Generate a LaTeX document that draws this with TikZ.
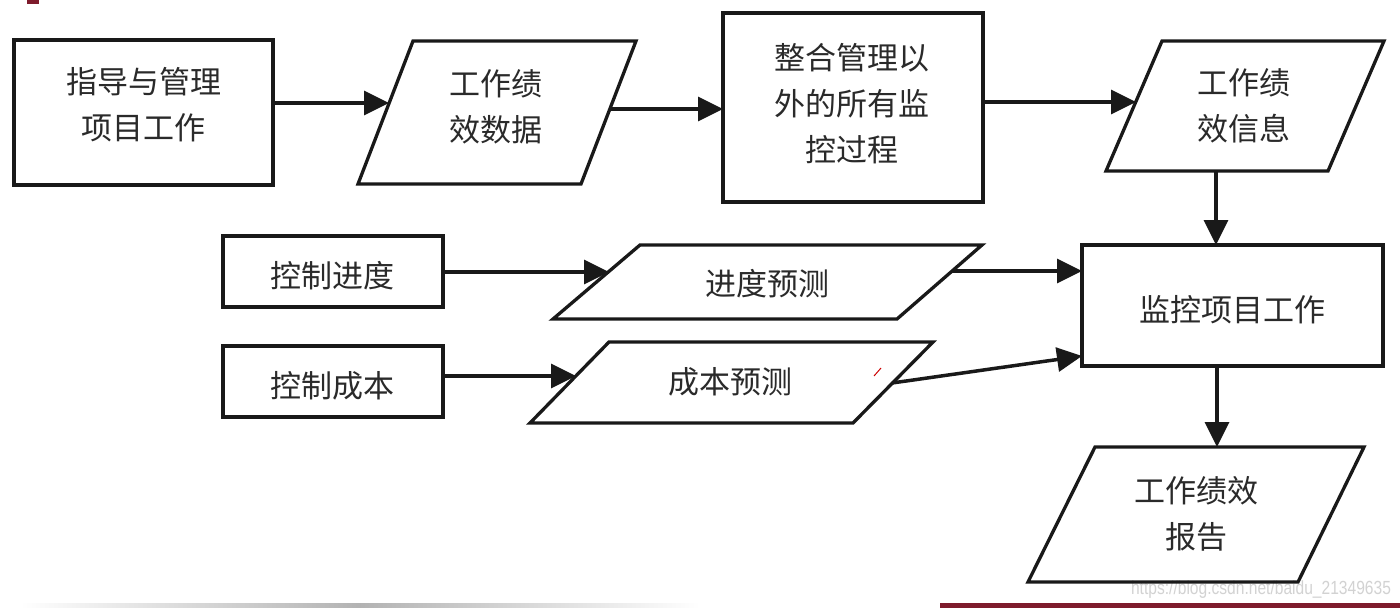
\documentclass[tikz,border=0pt]{standalone}
\usepackage{fontspec}
\newfontfamily\cjk{Noto Sans CJK SC}
\newfontfamily\wmfont{Liberation Sans}
\usetikzlibrary{arrows.meta}
\definecolor{txtgray}{HTML}{2A2A2A}
\definecolor{deepred}{HTML}{7E1B2C}
\definecolor{wmgray}{HTML}{D2D2D2}
\tikzset{
  box/.style={draw=black!90, line width=3.3pt, inner sep=0pt, outer sep=0pt},
  parashape/.style={draw=black!90, line width=3.3pt, line join=miter},
  txt/.style={font=\cjk\fontsize{31}{46}\selectfont, text=txtgray, align=center, inner sep=0pt},
  arr/.style={line width=3.5pt, draw=black!90, -{Triangle[length=25pt,width=24pt]}},
}
\begin{document}
\begin{tikzpicture}[x=1pt,y=-1pt]
\useasboundingbox[fill=white] (0,0) rectangle (1400,608);
% decorations
\fill[deepred] (27,0) rectangle (39,4);
\shade[left color=white, right color=white, middle color=black!30] (20,603.5) rectangle (700,607);
\fill[deepred] (940,603) rectangle (1400,608);
\node[font=\wmfont\fontsize{19}{19}\selectfont, text=wmgray, inner sep=0pt, xscale=0.82] (wm) at (1261,590) {https://blog.csdn.net/baidu\_21349635};

% rectangles
\node[box, minimum width=259pt, minimum height=145pt] (b1) at (143.5,112.5) {};
\node[txt] (t1) at (143.5,104.5) {指导与管理\\项目工作};
\node[box, minimum width=260pt, minimum height=189pt] (b3) at (853,107.5) {};
\node[txt] (t3) at (852,104) {整合管理以\\外的所有监\\控过程};
\node[box, minimum width=220pt, minimum height=71pt] (bs) at (333,271.5) {};
\node[txt] (ts) at (332,276) {控制进度};
\node[box, minimum width=220pt, minimum height=71pt] (bc) at (333,381.5) {};
\node[txt] (tc) at (332,386) {控制成本};
\node[box, minimum width=301pt, minimum height=121pt] (b5) at (1232.5,305.5) {};
\node[txt] (t5) at (1232,310) {监控项目工作};

% parallelograms
\draw[parashape] (413,41) -- (636,41) -- (581,184) -- (358,184) -- cycle;
\node[txt] (p1) at (496,106.5) {工作绩\\效数据};
\draw[parashape] (1162,41) -- (1384,41) -- (1328,171) -- (1106,171) -- cycle;
\node[txt] (p4) at (1244,105.5) {工作绩\\效信息};
\draw[parashape] (640,245) -- (982,245) -- (897,319) -- (553,319) -- cycle;
\node[txt] (ps) at (767,284) {进度预测};
\draw[parashape] (609,342) -- (933,342) -- (853,423) -- (530,423) -- cycle;
\node[txt] (pc) at (730,382) {成本预测};
\draw[parashape] (1095,447) -- (1364,447) -- (1298,582) -- (1028,582) -- cycle;
\node[txt] (p6) at (1196,513.5) {工作绩效\\报告};

% connection points on the slanted sides
\coordinate (p1in) at (389,103);
\coordinate (p1out) at (610,109);
\coordinate (p4in) at (1136,102);
\coordinate (p4out) at (1216,171);
\coordinate (psin) at (609,272);
\coordinate (psout) at (952,271);
\coordinate (pcin) at (576,376);
\coordinate (pcout) at (892,383);
\coordinate (p6in) at (1217,447);
\coordinate (b5in) at (1082,356);

% connectors
\draw[arr] (b1.east |- p1in) -- (p1in);
\draw[arr] (p1out) -- (b3.west |- p1out);
\draw[arr] (b3.east |- p4in) -- (p4in);
\draw[arr] (p4out) -- (b5.north -| p4out);
\draw[arr] (bs.east |- psin) -- (psin);
\draw[arr] (psout) -- (b5.west |- psout);
\draw[arr] (bc.east |- pcin) -- (pcin);
\draw[arr] (pcout) -- (b5in);
\draw[arr] (b5.south -| p6in) -- (p6in);

% cursor mark
\draw[red!80!black, line width=1pt] (881,368) -- (874,376);
\end{tikzpicture}
\end{document}
